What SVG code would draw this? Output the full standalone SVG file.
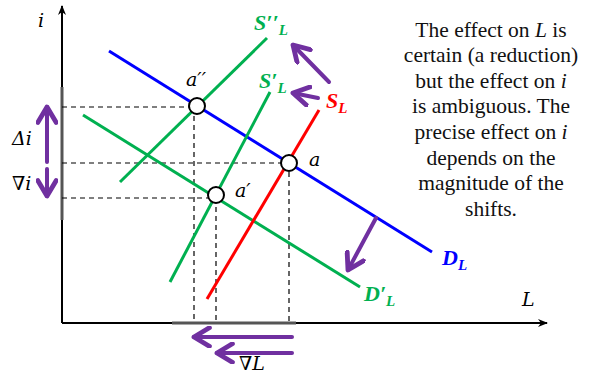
<svg xmlns="http://www.w3.org/2000/svg" width="607" height="376" viewBox="0 0 607 376">
<defs>
<marker id="ax" viewBox="0 0 10 10" refX="9" refY="5" markerWidth="10" markerHeight="10" markerUnits="userSpaceOnUse" orient="auto">
<path d="M0,1 L10,5 L0,9 L3,5 Z" fill="#000"/>
</marker>
<marker id="pa" viewBox="0 0 10 10" refX="8" refY="5" markerWidth="5.5" markerHeight="5.5" orient="auto">
<path d="M1,0.8 L8,5 L1,9.2" fill="none" stroke="#7030A0" stroke-width="2.2" stroke-linejoin="round" stroke-linecap="round"/>
</marker>
</defs>
<style>
.curve{stroke-width:3;fill:none}
.dash{stroke:#000;stroke-width:1.2;stroke-dasharray:5,4;fill:none}
.pur{stroke:#7030A0;stroke-width:4;fill:none;stroke-linecap:round;marker-end:url(#pa)}
.pt{fill:#fff;stroke:#000;stroke-width:2}
.lbl{font-family:"DejaVu Serif","Liberation Serif",serif;font-style:italic;font-size:19px;fill:#000}
.cl{font-family:"Liberation Serif","DejaVu Serif",serif;font-style:italic;font-weight:bold;font-size:22px}
.txt{font-family:"Liberation Serif","DejaVu Serif",serif;font-size:21.5px;fill:#111;text-anchor:middle}
</style>
<g id="axes">
<line x1="62" y1="323" x2="62" y2="6" stroke="#000" stroke-width="2" marker-end="url(#ax)"/>
<line x1="62" y1="323" x2="547" y2="323" stroke="#000" stroke-width="2" marker-end="url(#ax)"/>
<line x1="62" y1="87" x2="62" y2="220" stroke="#555" stroke-width="3"/>
<line x1="172" y1="323" x2="296" y2="323" stroke="#555" stroke-width="3"/>
<text class="lbl" x="38" y="27">i</text>
<text class="lbl" x="522" y="306">L</text>
</g>
<g id="connectors">
<path class="dash" d="M62,107 H197 M62,163 H289 M62,198 H216 M194,107 V323 M216,198 V323 M289,163 V323"/>
</g>
<g id="DL">
<line class="curve" stroke="#0000FF" x1="109" y1="51" x2="432" y2="252"/>
<text class="cl" fill="#0000FF" x="442" y="265">D<tspan font-size="15" dy="5">L</tspan></text>
</g>
<g id="DpL">
<line class="curve" stroke="#00B050" x1="83" y1="115" x2="360" y2="287"/>
<text class="cl" fill="#00B050" x="364" y="301">D′<tspan font-size="15" dy="5">L</tspan></text>
</g>
<g id="SL">
<line class="curve" stroke="#FF0000" x1="207" y1="299" x2="319" y2="110"/>
<text class="cl" fill="#FF0000" x="326" y="108">S<tspan font-size="15" dy="5">L</tspan></text>
</g>
<g id="SpL">
<line class="curve" stroke="#00B050" x1="170" y1="282" x2="270" y2="92"/>
<text class="cl" fill="#00B050" x="259" y="88">S′<tspan font-size="15" dy="5">L</tspan></text>
</g>
<g id="SppL">
<line class="curve" stroke="#00B050" x1="120" y1="182" x2="267" y2="38"/>
<text class="cl" fill="#00B050" x="254" y="30">S′′<tspan font-size="15" dy="5">L</tspan></text>
</g>
<g id="a2">
<circle class="pt" cx="197" cy="106" r="8"/>
<text class="lbl" x="186" y="86">a′′</text>
</g>
<g id="a">
<circle class="pt" cx="289" cy="163" r="8"/>
<text class="lbl" x="309" y="166">a</text>
</g>
<g id="a1">
<circle class="pt" cx="216" cy="195" r="8"/>
<text class="lbl" x="235" y="197">a′</text>
</g>
<g id="shifts">
<line class="pur" x1="329" y1="82" x2="293" y2="45"/>
<line class="pur" x1="318" y1="98" x2="293" y2="93"/>
<line class="pur" x1="376" y1="218" x2="348" y2="270"/>
<line class="pur" x1="47" y1="162" x2="47" y2="107"/>
<line class="pur" x1="47" y1="169" x2="47" y2="196"/>
<line class="pur" x1="292" y1="337" x2="194" y2="337"/>
<line class="pur" x1="292" y1="353" x2="217" y2="353"/>
<text class="lbl" x="239" y="370" font-size="15">∇L</text>
<text class="lbl" x="12" y="145">Δi</text>
<text class="lbl" x="12" y="190">∇i</text>
</g>
<g id="note">
<text class="txt" x="491" y="37">The effect on <tspan font-style="italic">L</tspan> is</text>
<text class="txt" x="491" y="62">certain (a reduction)</text>
<text class="txt" x="491" y="88">but the effect on <tspan font-style="italic">i</tspan></text>
<text class="txt" x="491" y="113">is ambiguous. The</text>
<text class="txt" x="491" y="139">precise effect on <tspan font-style="italic">i</tspan></text>
<text class="txt" x="491" y="165">depends on the</text>
<text class="txt" x="491" y="190">magnitude of the</text>
<text class="txt" x="491" y="216">shifts.</text>
</g>
</svg>
